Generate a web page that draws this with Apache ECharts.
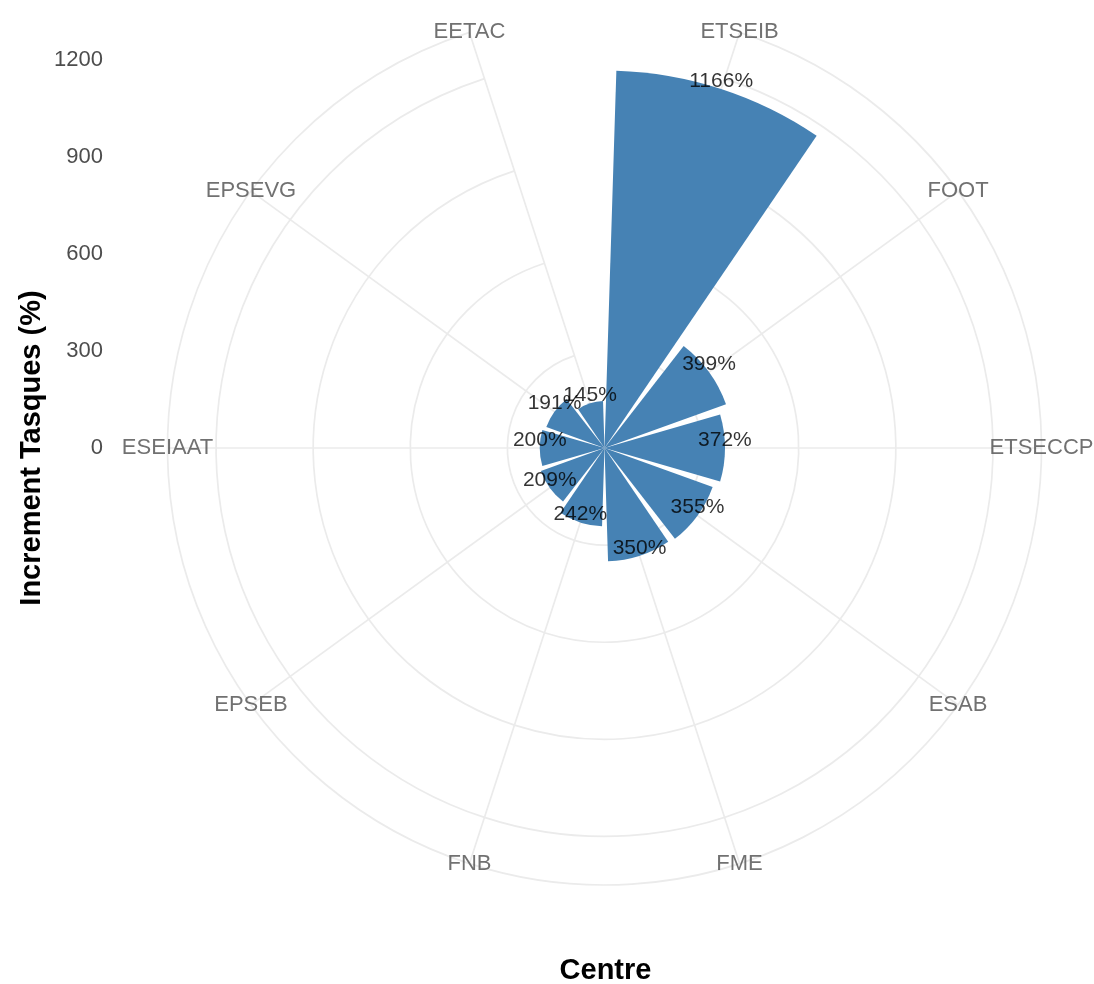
<!DOCTYPE html>
<html>
<head>
<meta charset="utf-8">
<script src="https://cdn.jsdelivr.net/npm/echarts@6/dist/echarts.min.js"></script>
<style>
html,body{margin:0;padding:0;background:#fff;}
#chart{width:1094px;height:984px;}
</style>
</head>
<body>
<div id="chart"></div>
<script>
// ---- data ----
const categories = ['ETSEIB', 'FOOT', 'ETSECCP', 'ESAB', 'FME', 'FNB', 'EPSEB', 'ESEIAAT', 'EPSEVG', 'EETAC'];
const values = [1166, 399, 372, 355, 350, 242, 209, 200, 191, 145];
const yTickStep = 300;
const yTitle = 'Increment Tasques (%)';
const xTitle = 'Centre';

// ---- layout ----
const CX = 604.5, CY = 448, R = 437;
const R_MAX = 1350;            // outer ring (ggplot 0.45 circle), 1200 at 0.4
const FONT = '"Liberation Sans", Arial, Helvetica, sans-serif';
const GRID_COLOR = '#EBEBEB';
const nCat = categories.length;

const chart = echarts.init(document.getElementById('chart'), null, {renderer: 'canvas'});

const option = {
  animation: false,
  backgroundColor: '#ffffff',
  polar: {center: [CX, CY], radius: [0, R]},
  angleAxis: {
    type: 'category',
    data: categories,
    boundaryGap: false,
    startAngle: 90 - 180 / nCat,
    clockwise: true,
    axisLine: {show: false},
    axisTick: {show: false},
    axisLabel: {show: false},
    splitLine: {show: true, lineStyle: {color: GRID_COLOR, width: 1.7}},
    z: 0
  },
  radiusAxis: {
    type: 'value',
    min: 0,
    max: R_MAX,
    interval: yTickStep,
    axisLine: {show: false},
    axisTick: {show: false},
    axisLabel: {show: false},
    splitLine: {show: true, lineStyle: {color: GRID_COLOR, width: 1.7}},
    z: 0
  },
  grid: {left: 111, width: 1, top: CY - R, height: R},
  xAxis: {type: 'value', show: false, min: 0, max: 1},
  yAxis: {
    type: 'value',
    min: 0,
    max: R_MAX,
    interval: yTickStep,
    axisLine: {show: false},
    axisTick: {show: false},
    splitLine: {show: false},
    axisLabel: {
      margin: 8,
      color: '#4D4D4D',
      fontFamily: FONT,
      fontSize: 22,
      formatter: v => (v % yTickStep === 0 ? String(v) : '')
    }
  },
  series: [
    {
      type: 'bar',
      coordinateSystem: 'polar',
      data: values,
      barCategoryGap: '10%',
      itemStyle: {color: '#4682B4'},
      z: 2
    },
    {
      type: 'scatter',
      coordinateSystem: 'polar',
      data: values.map((v, i) => [v, categories[i]]),
      symbolSize: 1,
      itemStyle: {color: 'rgba(0,0,0,0)'},
      label: {
        show: true,
        position: 'inside',
        offset: [0, -8],
        color: '#000',
        fontFamily: FONT,
        fontSize: 21,
        formatter: p => p.value[0] + '%'
      },
      z: 5
    },
    {
      type: 'scatter',
      coordinateSystem: 'polar',
      data: categories.map(c => [R_MAX, c]),
      symbolSize: 1,
      itemStyle: {color: 'rgba(0,0,0,0)'},
      label: {
        show: true,
        position: 'inside',
        color: '#4D4D4D',
        fontFamily: FONT,
        fontSize: 22,
        formatter: p => p.value[1]
      },
      z: 5
    }
  ],
  graphic: [
    {
      type: 'text',
      x: 32, y: CY,
      rotation: Math.PI / 2,
      style: {
        text: yTitle,
        fill: '#000',
        font: 'bold 29px ' + FONT,
        textAlign: 'center',
        textVerticalAlign: 'middle'
      }
    },
    {
      type: 'text',
      x: 605.5, y: 971,
      style: {
        text: xTitle,
        fill: '#000',
        font: 'bold 29px ' + FONT,
        textAlign: 'center',
        textVerticalAlign: 'middle'
      }
    }
  ]
};
chart.setOption(option);
</script>
</body>
</html>
